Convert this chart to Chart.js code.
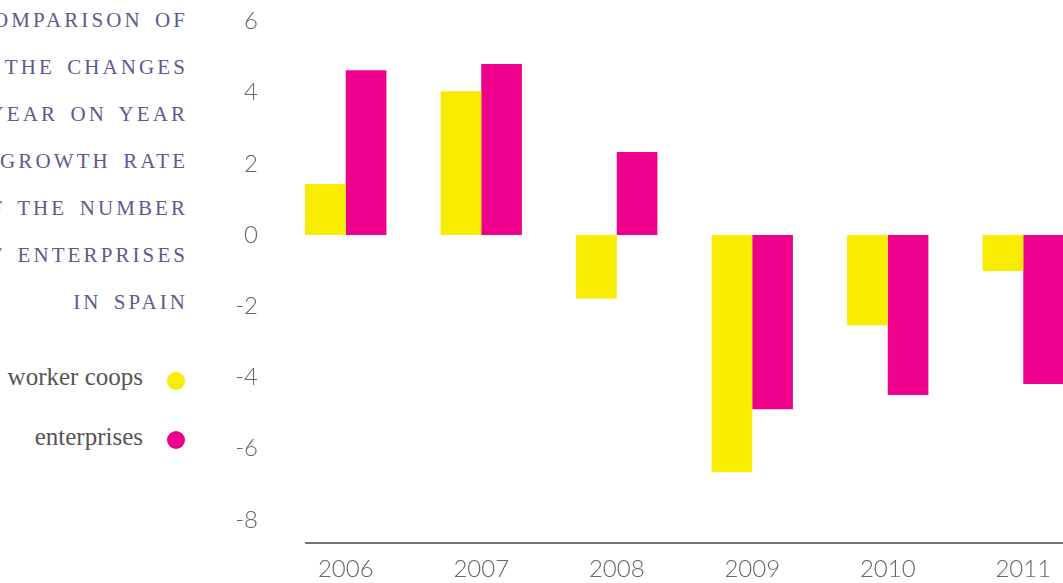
<!DOCTYPE html>
<html>
<head>
<meta charset="utf-8">
<script src="https://cdn.jsdelivr.net/npm/chart.js@4"></script>
<style>
  html, body { margin: 0; padding: 0; background: #fff; overflow: hidden; width: 1063px; height: 583px; }
  #wrap { position: absolute; left: 0; top: 0; width: 1091px; height: 583px; }
  .title {
    position: absolute; right: 878px; top: -3px; width: 400px; text-align: right;
    font-family: "Liberation Serif", serif; font-size: 21px; line-height: 47px;
    letter-spacing: 3.1px; word-spacing: 4px; color: #5e5a8e; white-space: nowrap;
  }
  .title div { margin-right: -3.1px; }
  .leg { position: absolute; left: 0; width: 143px; text-align: right;
    font-family: "Liberation Serif", serif; font-size: 25px; line-height: 24px; color: #555; }
  .dot { position: absolute; left: 167px; width: 18px; height: 18px; border-radius: 50%; }
</style>
</head>
<body>
<div class="title">
  <div>COMPARISON OF</div>
  <div>THE CHANGES</div>
  <div>IN YEAR ON YEAR</div>
  <div>OF GROWTH RATE</div>
  <div>OF THE NUMBER</div>
  <div>OF ENTERPRISES</div>
  <div>IN SPAIN</div>
</div>
<div class="leg" style="top:365px">worker coops</div>
<div class="dot" id="dot1" style="top:372px"></div>
<div class="leg" style="top:425px">enterprises</div>
<div class="dot" id="dot2" style="top:431px"></div>
<div id="wrap"><canvas id="chart" width="1091" height="583"></canvas></div>
<script>
  const years = ['2006', '2007', '2008', '2009', '2010', '2011'];
  const workerCoops = [1.43, 4.04, -1.78, -6.66, -2.53, -1.01];
  const enterprises = [4.63, 4.80, 2.33, -4.89, -4.49, -4.18];
  const yTicks = [-8, -6, -4, -2, 0, 2, 4, 6];

  const yellow = '#f8ec00';
  const magenta = '#ec008c';
  document.getElementById('dot1').style.background = yellow;
  document.getElementById('dot2').style.background = magenta;

  // axis line starts at the first bar, not at the chart area edge
  const baseLine = {
    id: 'baseLine',
    afterDatasetsDraw(chart) {
      const bar = chart.getDatasetMeta(0).data[0];
      const ctx = chart.ctx;
      const y = chart.chartArea.bottom + 1;
      ctx.save();
      ctx.strokeStyle = '#777';
      ctx.lineWidth = 2;
      ctx.beginPath();
      ctx.moveTo(bar.x - bar.width / 2, y);
      ctx.lineTo(chart.chartArea.right, y);
      ctx.stroke();
      ctx.restore();
    }
  };

  const noPad = (scale) => {
    scale.paddingTop = 0;
    scale.paddingBottom = 0;
    scale.paddingLeft = 0;
    scale.paddingRight = 0;
  };

  const data = {
    labels: years,
    datasets: [{
      label: 'worker coops',
      backgroundColor: yellow,
      data: workerCoops,
    }, {
      label: 'enterprises',
      backgroundColor: magenta,
      data: enterprises,
    }]
  };

  const config = {
    type: 'bar',
    data: data,
    options: {
      responsive: false,
      animation: false,
      categoryPercentage: 0.6,
      barPercentage: 1.0,
      layout: { padding: { left: 200, right: 0, top: 0, bottom: 0 } },
      plugins: { legend: { display: false }, tooltip: { enabled: false } },
      scales: {
        x: {
          grid: { display: false },
          border: { display: false },
          afterFit: (scale) => { noPad(scale); scale.height = 41; },
          ticks: { color: '#666', padding: 5, font: { family: 'Lato', size: 24, weight: 300 } }
        },
        y: {
          min: -8.62,
          max: 6.6,
          grid: { display: false, drawTicks: false },
          border: { display: false },
          afterBuildTicks: (scale) => { scale.ticks = yTicks.map(v => ({ value: v })); },
          afterFit: (scale) => { noPad(scale); scale.width = 78; },
          ticks: { color: '#666', padding: 20, font: { family: 'Lato', size: 24, weight: 300 } }
        }
      }
    },
    plugins: [baseLine]
  };

  const myChart = new Chart(document.getElementById('chart'), config);
</script>
</body>
</html>
